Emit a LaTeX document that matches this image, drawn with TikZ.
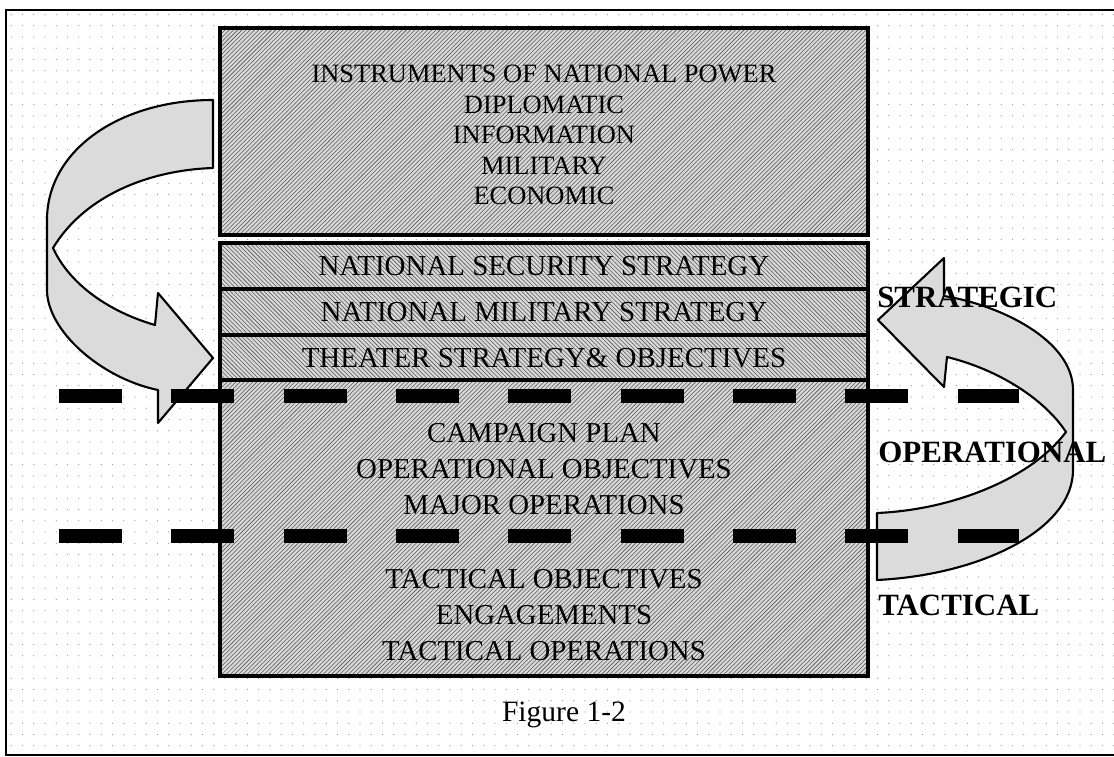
\documentclass[tikz,border=0pt]{standalone}
\usepackage{fontspec}
\setmainfont{Liberation Serif}
\usetikzlibrary{patterns}

\pgfdeclarepatternformonly{sparse dots}{\pgfqpoint{-1pt}{-1pt}}{\pgfqpoint{1pt}{1pt}}{\pgfqpoint{8pt}{8pt}}%
{\pgfpathcircle{\pgfpointorigin}{0.5pt}\pgfusepath{fill}}

\begin{document}
\begin{tikzpicture}[x=0.025cm,y=-0.025cm,
    hatchbox/.style={preaction={fill=black!15}, pattern=north east lines,
        pattern color=black!65, draw=black, line width=2.2pt},
    stripbox/.style={preaction={fill=black!15}, pattern=north west lines,
        pattern color=black!65, draw=black, line width=2.2pt},
    bigarrow/.style={fill=black!14, draw=black, line width=1.5pt, line join=round},
    level/.style={line width=10.5pt, dash pattern=on 44.8pt off 35.1pt},
    toptext/.style={align=center, font=\fontsize{18.8}{21.7}\selectfont},
    striptext/.style={font=\fontsize{20.6}{24}\selectfont},
    boxtext/.style={align=center, font=\fontsize{20.5}{25.6}\selectfont},
    leveltext/.style={anchor=west, inner sep=0pt, font=\bfseries\fontsize{22}{26}\selectfont}]
\useasboundingbox (0,0) rectangle (1114,757);
% page with dotted ground
\fill[pattern=sparse dots, pattern color=black!40] (6,10) rectangle (1114,755);
\draw[line width=1.4pt] (1114,10) -- (6,10) -- (6,755) -- (1114,755);
% body of the chart
\draw[hatchbox] (220,28) rectangle (868,235);
\draw[stripbox] (220,243) rectangle (868,289);
\draw[stripbox] (220,289) rectangle (868,335);
\draw[stripbox] (220,335) rectangle (868,380);
\draw[hatchbox] (220,380) rectangle (868,676);

\node[toptext] (power) at (544,135) {INSTRUMENTS OF NATIONAL POWER\\DIPLOMATIC\\INFORMATION\\MILITARY\\ECONOMIC};
\node[striptext] (nss) at (544,266) {NATIONAL SECURITY STRATEGY};
\node[striptext] (nms) at (544,312) {NATIONAL MILITARY STRATEGY};
\node[striptext] (theater) at (544,358) {THEATER STRATEGY\& OBJECTIVES};
\node[boxtext] (campaign) at (544,469) {CAMPAIGN PLAN\\OPERATIONAL OBJECTIVES\\MAJOR OPERATIONS};
\node[boxtext] (tactics) at (544,615) {TACTICAL OBJECTIVES\\ENGAGEMENTS\\TACTICAL OPERATIONS};
% curved arrows
\draw[bigarrow] (213,100) .. controls (120,100) and (47,150) .. (47,220) -- (47,290)
    .. controls (47,330) and (100,378) .. (158,390) -- (158,423) -- (213,358)
    -- (158,293) -- (155,325) .. controls (110,312) and (70,285) .. (53,248)
    .. controls (85,195) and (150,170) .. (213,168) -- cycle;
\draw[bigarrow] (877,580) .. controls (980,575) and (1073,530) .. (1073,470) -- (1073,390)
    .. controls (1073,340) and (1000,305) .. (944,296) -- (944,258) -- (878,320)
    -- (944,387) -- (947,357) .. controls (1000,370) and (1045,400) .. (1066,432)
    .. controls (1030,480) and (950,510) .. (877,513) -- cycle;
% level lines
\draw[level] (59,396) -- (1019,396);
\draw[level] (59,536) -- (1019,536);
% level labels
\node[leveltext] (strategic) at (877,297) {STRATEGIC};
\node[leveltext] (operational) at (878,452) {OPERATIONAL};
\node[leveltext] (tactical) at (878,605) {TACTICAL};

\node[font=\fontsize{21}{25}\selectfont] (caption) at (564,715) {Figure 1-2};
\end{tikzpicture}
\end{document}
